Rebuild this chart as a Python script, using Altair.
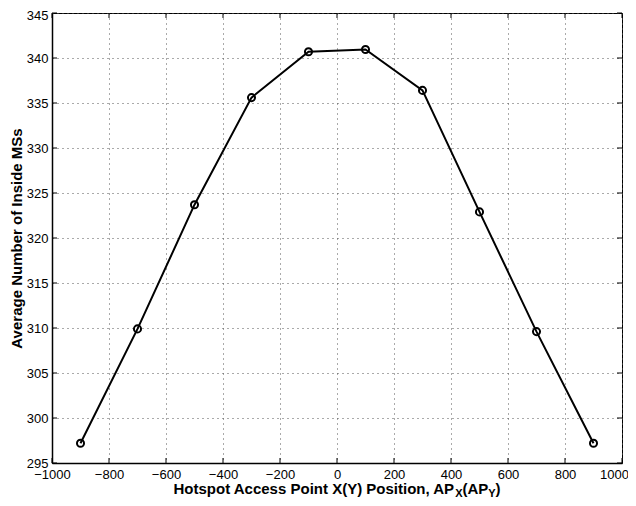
import altair as alt
import pandas as pd

# Data
positions = [-900, -700, -500, -300, -100, 100, 300, 500, 700, 900]
avg_inside = [297.2, 309.9, 323.7, 335.6, 340.7, 340.95, 336.4, 322.9, 309.6, 297.2]
x_ticks = [-1000, -800, -600, -400, -200, 0, 200, 400, 600, 800, 1000]
y_ticks = [295, 300, 305, 310, 315, 320, 325, 330, 335, 340, 345]

y_title = "Average Number of Inside MSs"
x_title_main = "Hotspot Access Point X(Y) Position, AP"
x_title_sub1 = "X"
x_title_mid = "(AP"
x_title_sub2 = "Y"
x_title_end = ")"

FONT = "Liberation Sans"
W, H = 570, 450

df = pd.DataFrame({"pos": positions, "val": avg_inside})
xt = pd.DataFrame({"t": x_ticks})
yt = pd.DataFrame({"t": y_ticks})

xscale = alt.Scale(domain=[-1000, 1000], nice=False, zero=False)
yscale = alt.Scale(domain=[295, 345], nice=False, zero=False)

xaxis = alt.Axis(values=x_ticks, format="d", title=None, grid=True,
                 gridDash=[1, 4], gridColor="#555", gridWidth=1,
                 ticks=False, labelPadding=5, labelFlush=False,
                 labelFontSize=13, labelFont=FONT, labelColor="black",
                 labelOverlap=False,
                 labelOffset={"condition": {"test": "datum.value == 1000", "value": -8},
                              "value": 0},
                 domainColor="black", domainWidth=1.5)
yaxis = alt.Axis(values=y_ticks, format="d", title=y_title, grid=True,
                 gridDash=[1, 4], gridColor="#555", gridWidth=1,
                 ticks=False, labelPadding=4, labelFlush=False,
                 labelFontSize=13, labelFont=FONT, labelColor="black",
                 labelOverlap=False,
                 labelOffset={"condition": {"test": "datum.value == 345", "value": 2},
                              "value": 0},
                 domainColor="black", domainWidth=1.5,
                 titleFont=FONT, titleFontSize=15, titleFontWeight="bold",
                 titleColor="black", titleAngle=-90, titleX=-31, titleY=H / 2,
                 titleAlign="center", titleBaseline="alphabetic")

base = alt.Chart(df)

line = base.mark_line(color="black", strokeWidth=2).encode(
    x=alt.X("pos:Q", scale=xscale, axis=xaxis),
    y=alt.Y("val:Q", scale=yscale, axis=yaxis),
)
pts = base.mark_point(shape="circle", filled=False, size=50, strokeWidth=2,
                      color="black", opacity=1).encode(
    x=alt.X("pos:Q", scale=xscale),
    y=alt.Y("val:Q", scale=yscale),
)

tick_len = 5
xt_bottom = alt.Chart(xt).mark_rule(color="black", strokeWidth=1).encode(
    x=alt.X("t:Q", scale=xscale), y=alt.value(H), y2=alt.value(H - tick_len))
xt_top = alt.Chart(xt).mark_rule(color="black", strokeWidth=1).encode(
    x=alt.X("t:Q", scale=xscale), y=alt.value(0), y2=alt.value(tick_len))
yt_left = alt.Chart(yt).mark_rule(color="black", strokeWidth=1).encode(
    y=alt.Y("t:Q", scale=yscale), x=alt.value(0), x2=alt.value(tick_len))
yt_right = alt.Chart(yt).mark_rule(color="black", strokeWidth=1).encode(
    y=alt.Y("t:Q", scale=yscale), x=alt.value(W), x2=alt.value(W - tick_len))


def piece(text, x, y, size):
    return alt.Chart(pd.DataFrame({"t": [text]})).mark_text(
        font=FONT, fontSize=size, fontWeight="bold", color="black",
        align="left", baseline="alphabetic").encode(
        x=alt.value(x), y=alt.value(y), text="t:N")


main_y, sub_y = 481, 484
titles = [
    piece(x_title_main, 121.5, main_y, 15),
    piece(x_title_sub1, 403.2, sub_y, 11),
    piece(x_title_mid, 410.5, main_y, 15),
    piece(x_title_sub2, 436.3, sub_y, 11),
    piece(x_title_end, 443.6, main_y, 15),
]

chart = alt.layer(line, pts, xt_bottom, xt_top, yt_left, yt_right, *titles).properties(
    width=W, height=H,
    autosize=alt.AutoSizeParams(type="none"),
    padding={"left": 44, "top": 5, "right": 6, "bottom": 35},
    background="white",
).configure_view(stroke="black", strokeWidth=1)

chart.save("out.html", embed_options={"renderer": "svg", "actions": False})
